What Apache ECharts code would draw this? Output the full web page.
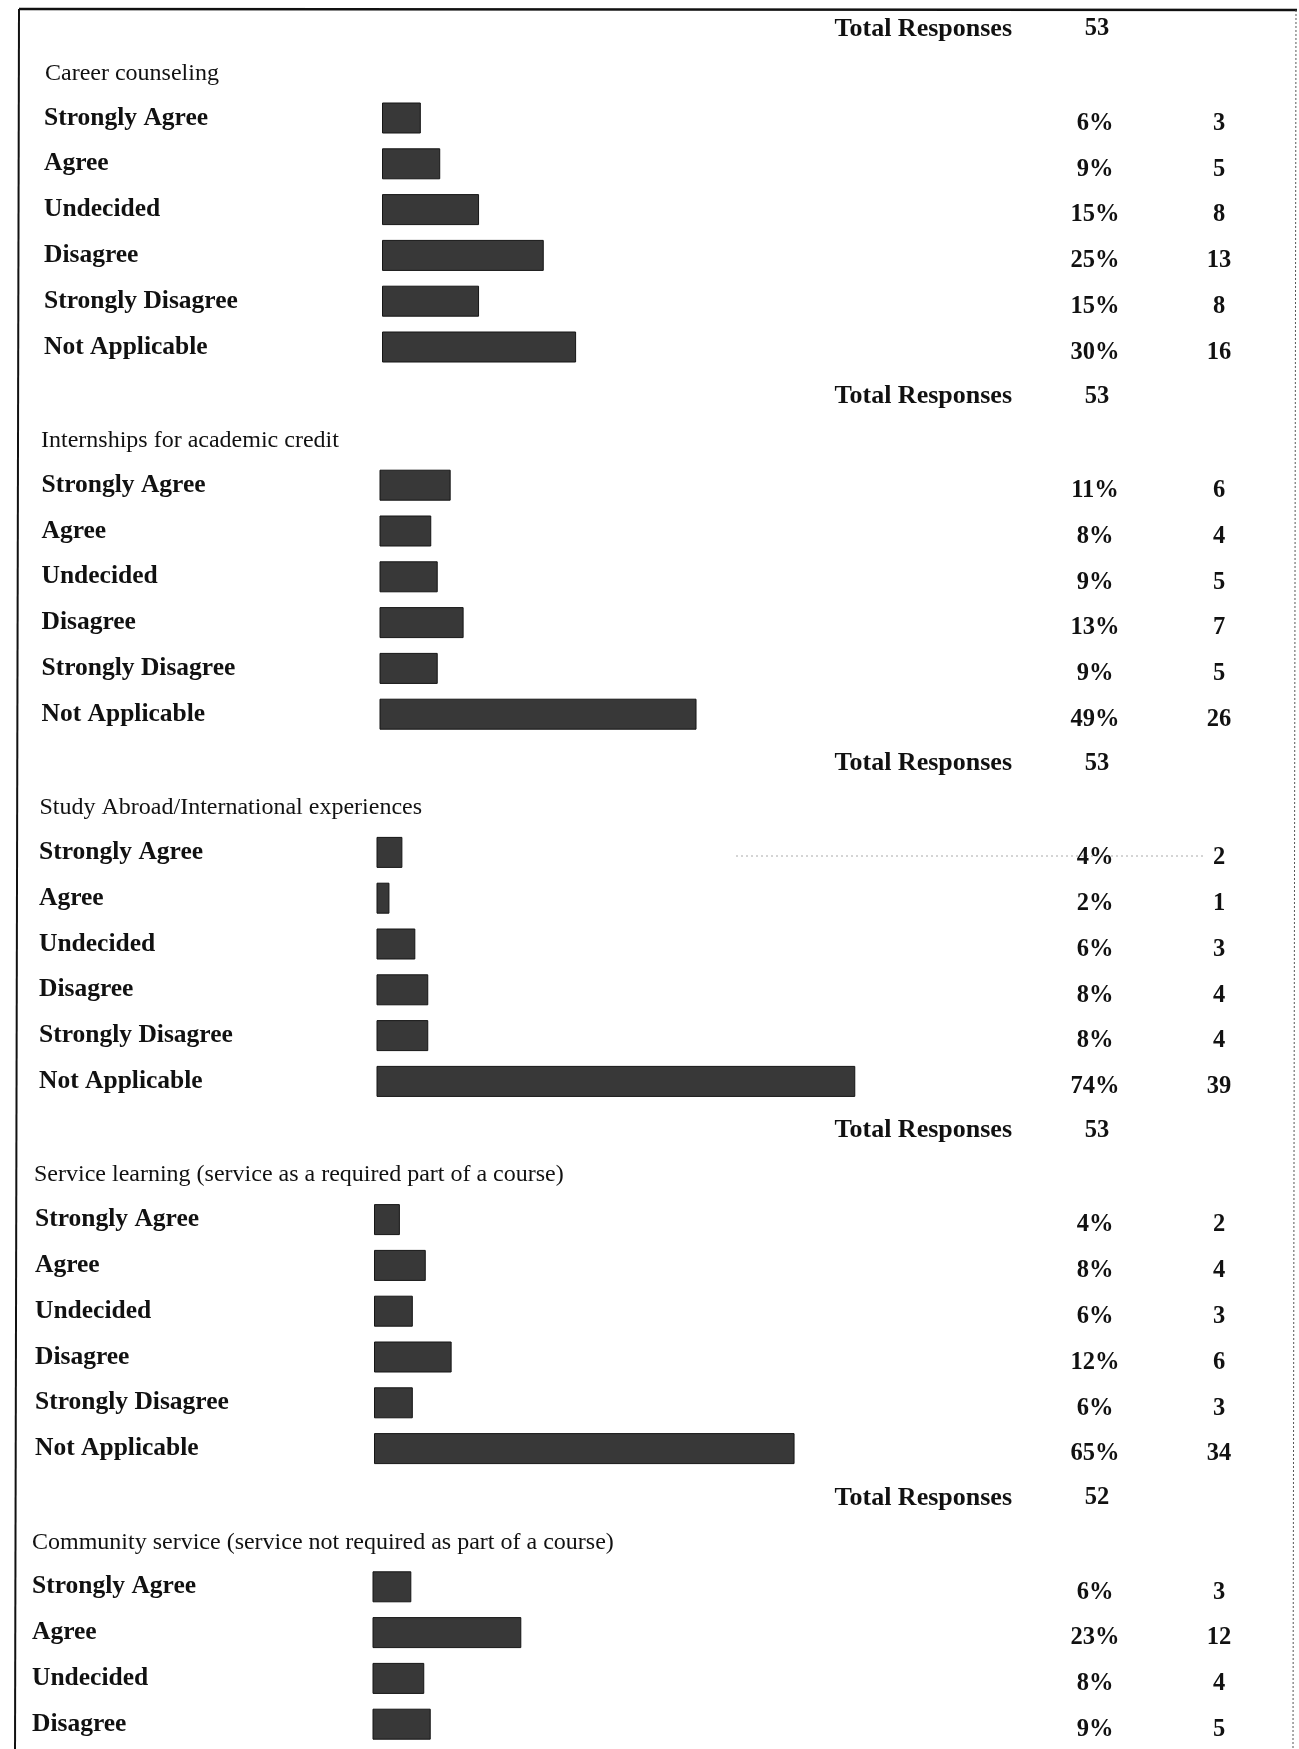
<!DOCTYPE html>
<html>
<head>
<meta charset="utf-8">
<script src="https://cdn.jsdelivr.net/npm/echarts@6/dist/echarts.min.js"></script>
<style>
  html, body { margin: 0; padding: 0; background: #fff; }
  #chart { width: 1299px; height: 1749px; }
</style>
</head>
<body>
<div id="chart"></div>
<script>
// survey answers, one block per service
const groupNames = [
  'Career counseling',
  'Internships for academic credit',
  'Study Abroad/International experiences',
  'Service learning (service as a required part of a course)',
  'Community service (service not required as part of a course)'
]
const totalResponses = [53, 53, 53, 53, 52]
const answers = ['Strongly Agree', 'Agree', 'Undecided', 'Disagree', 'Strongly Disagree', 'Not Applicable']

const careerPct = [6, 9, 15, 25, 15, 30]
const careerCount = [3, 5, 8, 13, 8, 16]
const internPct = [11, 8, 9, 13, 9, 49]
const internCount = [6, 4, 5, 7, 5, 26]
const abroadPct = [4, 2, 6, 8, 8, 74]
const abroadCount = [2, 1, 3, 4, 4, 39]
const servicePct = [4, 8, 6, 12, 6, 65]
const serviceCount = [2, 4, 3, 6, 3, 34]
// page is cut off after the fourth row of this block
const communityPct = [6, 23, 8, 9]
const communityCount = [3, 12, 4, 5]

const percentData = [careerPct, internPct, abroadPct, servicePct, communityPct]
const countData = [careerCount, internCount, abroadCount, serviceCount, communityCount]

// layout, px (the scan is slightly skewed so the left edge drifts per block)
const rowH = 45.8
const groupStep = 367.2
const firstRowY = 118
const numDrop = 5.5 // right-hand columns sit a bit lower on the scan
const barLeft = [382, 379.5, 376.5, 374, 372.5]
const labelLeft = [44, 41.5, 39, 35, 32]
const nameLeft = [45, 41, 39.5, 34, 32]
const barScale = 6.47 // px per percent
const pctX = 1095
const cntX = 1219
const serif = '"Liberation Serif", "Times New Roman", serif'
const G = percentData.length

const grids = []
const xAxes = []
const yAxes = []
const series = []
const graphics = []

function numAxis(gi, data, x, right) {
  return {
    type: 'category',
    gridIndex: gi,
    position: 'right',
    offset: 0,
    inverse: true,
    data: data,
    axisLine: { show: false },
    axisTick: { show: false },
    axisLabel: {
      align: 'center',
      margin: x - right,
      fontFamily: serif,
      fontWeight: 'bold',
      fontSize: 24.5,
      color: '#111'
    }
  }
}

// grids 0..G-1 hold the bars, grids G..2G-1 only carry the number columns
percentData.forEach((pct, i) => {
  const n = pct.length
  const rowY = firstRowY + i * groupStep
  const w = barScale * 100

  grids.push({
    left: barLeft[i],
    top: rowY - rowH / 2,
    width: w,
    height: n * rowH,
    outerBoundsMode: 'none',
    containLabel: false
  })
  xAxes.push({ type: 'value', gridIndex: i, min: 0, max: 100, show: false })
  yAxes.push({
    type: 'category',
    gridIndex: i,
    inverse: true,
    data: answers.slice(0, n),
    axisLine: { show: false },
    axisTick: { show: false },
    axisLabel: {
      align: 'left',
      margin: barLeft[i] - labelLeft[i],
      fontFamily: serif,
      fontWeight: 'bold',
      fontSize: 25.5,
      color: '#111'
    }
  })

  series.push({
    type: 'bar',
    xAxisIndex: i,
    yAxisIndex: i,
    data: pct,
    barWidth: 31,
    silent: true,
    itemStyle: { color: '#383838', borderColor: '#151515', borderWidth: 1 }
  })

  // "Total Responses" line above each block, then the block title
  graphics.push({
    type: 'text',
    x: 1012,
    y: rowY - 89,
    style: {
      text: 'Total Responses',
      font: 'bold 26px ' + serif,
      fill: '#111',
      textAlign: 'right', align: 'right',
      textVerticalAlign: 'middle', verticalAlign: 'middle'
    }
  })
  graphics.push({
    type: 'text',
    x: 1097,
    y: rowY - 89,
    style: {
      text: String(totalResponses[i]),
      font: 'bold 24.5px ' + serif,
      fill: '#111',
      textAlign: 'center', align: 'center',
      textVerticalAlign: 'middle', verticalAlign: 'middle'
    }
  })
  graphics.push({
    type: 'text',
    x: nameLeft[i],
    y: rowY - 44.5,
    style: {
      text: groupNames[i],
      font: '24px ' + serif,
      fill: '#111',
      textAlign: 'left', align: 'left',
      textVerticalAlign: 'middle', verticalAlign: 'middle'
    }
  })
})

percentData.forEach((pct, i) => {
  const n = pct.length
  const gi = G + i
  const rowY = firstRowY + i * groupStep + numDrop
  const left = barLeft[i]
  const w = barScale * 100
  grids.push({
    left: left,
    top: rowY - rowH / 2,
    width: w,
    height: n * rowH,
    outerBoundsMode: 'none',
    containLabel: false
  })
  xAxes.push({ type: 'value', gridIndex: gi, min: 0, max: 100, show: false })
  yAxes.push(numAxis(gi, pct.map(v => v + '%'), pctX, left + w))
  yAxes.push(numAxis(gi, countData[i].map(String), cntX, left + w))
})

// page frame of the scanned sheet
graphics.push(
  { type: 'line', shape: { x1: 19, y1: 9, x2: 1297, y2: 10 }, style: { stroke: '#111', lineWidth: 2.5 } },
  { type: 'line', shape: { x1: 19, y1: 9, x2: 15, y2: 1749 }, style: { stroke: '#111', lineWidth: 2 } },
  { type: 'line', shape: { x1: 1296, y1: 10, x2: 1293, y2: 1749 }, style: { stroke: '#555', lineWidth: 1, lineDash: [2, 2] } },
  // faint scan streak in the third block
  { type: 'line', shape: { x1: 736, y1: 856, x2: 1205, y2: 856 }, style: { stroke: '#aaa', lineWidth: 1, lineDash: [2, 3] } }
)

const myChart = echarts.init(document.getElementById('chart'), null, { renderer: 'canvas' })
myChart.setOption({
  backgroundColor: '#fff',
  animation: false,
  grid: grids,
  xAxis: xAxes,
  yAxis: yAxes,
  series: series,
  graphic: graphics
})
</script>
</body>
</html>
